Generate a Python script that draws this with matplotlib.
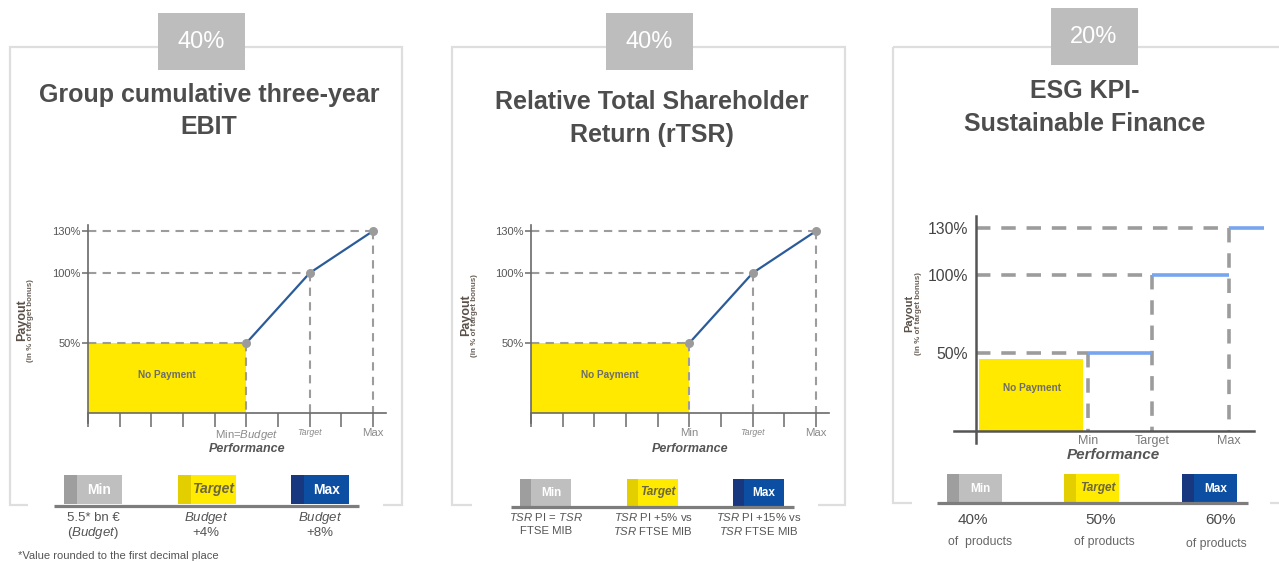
import matplotlib
matplotlib.use('Agg')
import matplotlib.pyplot as plt
from matplotlib.patches import Rectangle

plt.rcParams.update({
    'font.family': ['Liberation Sans', 'DejaVu Sans'],
    'mathtext.fontset': 'custom',
    'mathtext.rm': 'Liberation Sans',
    'mathtext.it': 'Liberation Sans:italic',
    'mathtext.bf': 'Liberation Sans:bold',
})

W, H = 1279, 562

# --- Data ---
weights = ['40%', '40%', '20%']
titles = ['Group cumulative three-year\nEBIT',
          'Relative Total Shareholder\nReturn (rTSR)',
          'ESG KPI-\nSustainable Finance']
levels = ['Min', 'Target', 'Max']
payout = [50, 100, 130]              # % of target bonus
perf_ebit = [5, 7, 9]                # position on performance scale (ticks 0..9)
perf_tsr = [5, 7, 9]
perf_esg = [3.5, 5.5, 7.9]
esg_end = 9.0
esg_no_pay = 46
ebit_ticks = ['Min=$\\mathit{Budget}$', 'Target', 'Max']
ebit_thr = [('5.5* bn €', '($\\mathit{Budget}$)'),
            ('$\\mathit{Budget}$', '+4%'),
            ('$\\mathit{Budget}$', '+8%')]
tsr_thr = [('$\\mathit{TSR}$ PI = $\\mathit{TSR}$', 'FTSE MIB'),
           ('$\\mathit{TSR}$ PI +5% vs', '$\\mathit{TSR}$ FTSE MIB'),
           ('$\\mathit{TSR}$ PI +15% vs', '$\\mathit{TSR}$ FTSE MIB')]
esg_thr = [('40%', 'of  products'), ('50%', 'of products'), ('60%', 'of products')]

YELLOW = '#ffe900'
DASH_C = '#9c9c9c'
TXT = '#555555'
block_cols = [('#9e9e9e', '#bfbfbf', 'white'),
              ('#e3cf00', '#ffea00', '#6b6640'),
              ('#17387f', '#0b4ea2', 'white')]

fig = plt.figure(figsize=(W / 100, H / 100), dpi=100)
bg = fig.add_axes([0, 0, 1, 1])
bg.set_xlim(0, W)
bg.set_ylim(H, 0)
bg.axis('off')


def chart_axes(box, x0px, xs, y0px, ys):
    l, r, t, b = box
    ax = fig.add_axes([l / W, 1 - b / H, (r - l) / W, (b - t) / H])
    ax.set_xlim((l - x0px) / xs, (r - x0px) / xs)
    ax.set_ylim((y0px - b) / ys, (y0px - t) / ys)
    ax.patch.set_visible(False)
    for s in ['top', 'right']:
        ax.spines[s].set_visible(False)
    ax.spines['left'].set_position(('data', 0))
    ax.spines['bottom'].set_position(('data', 0))
    return ax


# --- frames, weight boxes, titles ---
frame_l = [10, 452, 893]
frame_r = [402, 845, 1295]
frame_b = [505, 505, 503]
box_cx = [201, 649, 1094]
box_top = [13, 13, 8]
title_cx = [209, 652, 1085]
title_cy = [111, 118.5, 107.5]
for i in range(3):
    bg.add_patch(Rectangle((frame_l[i], 47), frame_r[i] - frame_l[i], frame_b[i] - 47,
                           fill=False, ec='#dedede', lw=1.6))
    bg.add_patch(Rectangle((box_cx[i] - 43.5, box_top[i]), 87, 57, fc='#bdbdbd', ec='none'))
    bg.text(box_cx[i], box_top[i] + 29, weights[i], color='white', fontsize=17,
            ha='center', va='center')
    bg.text(title_cx[i], title_cy[i], titles[i], color='#4d4d4d', fontsize=18,
            fontweight='bold', ha='center', va='center', linespacing=1.45)


def slope_chart(ax, perf, ticklabels):
    ax.add_patch(Rectangle((0, 0), perf[0], payout[0], fc=YELLOW, ec='none', zorder=1))
    for px, py in zip(perf, payout):
        ax.plot([0, px], [py, py], color=DASH_C, lw=1.5, ls=(0, (4, 3)), zorder=2)
        ax.plot([px, px], [py, 0], color=DASH_C, lw=1.5, ls=(0, (4, 3)), zorder=2)
    ax.plot(perf, payout, color='#2b5c99', lw=1.6, zorder=3)
    ax.scatter(perf, payout, s=30, color='#9b9b9b', zorder=4)
    ax.text(perf[0] / 2, payout[0] * 0.55, 'No Payment', fontsize=7.2, fontweight='bold',
            color='#6d6d6d', ha='center', va='center', zorder=5)
    for s in ['left', 'bottom']:
        ax.spines[s].set_color('#6a6a6a')
        ax.spines[s].set_linewidth(1.2)
    ax.spines['left'].set_bounds(-7, 134)
    ax.spines['bottom'].set_bounds(0, 9.4)
    ax.set_yticks(payout)
    ax.set_yticklabels([f'{p}%' for p in payout], fontsize=8, color='#555555')
    ax.tick_params(axis='y', direction='inout', length=9, width=1.1, color='#6a6a6a', pad=1)
    labels = [''] * 10
    for px, lab in zip(perf, ticklabels):
        labels[px] = lab
    ax.set_xticks(range(10))
    ax.set_xticklabels(labels, fontsize=8.2, color='#8a8a8a')
    ax.tick_params(axis='x', direction='out', length=10, width=1.1, color='#6a6a6a', pad=1)
    tl = ax.get_xticklabels()[perf[1]]
    tl.set_fontsize(6.3)
    tl.set_fontstyle('italic')


# --- chart 1: EBIT, chart 2: rTSR ---
ax1 = chart_axes((40, 400, 210, 470), 88, 31.67, 413, 1.4)
slope_chart(ax1, perf_ebit, ebit_ticks)
ax2 = chart_axes((483, 845, 210, 470), 531, 31.67, 413, 1.4)
slope_chart(ax2, perf_tsr, levels)

# --- chart 3: ESG steps ---
ax3 = chart_axes((935, 1279, 205, 470), 976, 32, 431, 1.56)
ax3.add_patch(Rectangle((0.1, 0), perf_esg[0] - 0.25, esg_no_pay, fc=YELLOW, ec='none', zorder=1))
for px, py in zip(perf_esg, payout):
    ax3.plot([0, px], [py, py], color=DASH_C, lw=2.6, ls=(0, (4, 3)), zorder=2)
    ax3.plot([px, px], [py, 0], color=DASH_C, lw=2.6, ls=(0, (4, 3)), zorder=2)
ax3.hlines(payout, perf_esg, perf_esg[1:] + [esg_end], color='#78a5f0', lw=2.6, zorder=3)
ax3.text(perf_esg[0] / 2, esg_no_pay * 0.6, 'No Payment', fontsize=7.3, fontweight='bold',
         color='#6d6d6d', ha='center', va='center', zorder=5)
for s in ['left', 'bottom']:
    ax3.spines[s].set_color('#555555')
    ax3.spines[s].set_linewidth(1.8)
ax3.spines['left'].set_bounds(-7.7, 138)
ax3.spines['bottom'].set_bounds(-0.7, 8.7)
ax3.set_yticks(payout)
ax3.set_yticklabels([f'{p}%' for p in payout], fontsize=11.3, color='#444444')
ax3.tick_params(axis='y', length=0, pad=6)
ax3.set_xticks(perf_esg)
ax3.set_xticklabels(levels, fontsize=9, color='#7a7a7a')
ax3.tick_params(axis='x', length=0, pad=3)

# axis titles
perf_cx = [247, 690, 1113]
perf_y = [449, 449, 455]
perf_fs = [9, 9, 11]
pay_x = [22, 466, 909]
pay_cy = [320, 315, 313]
pay_fs = [9, 9, 8]
for i in range(3):
    bg.text(perf_cx[i], perf_y[i], 'Performance', fontsize=perf_fs[i], fontweight='bold',
            fontstyle='italic', color='#555555', ha='center', va='center')
    bg.text(pay_x[i], pay_cy[i], 'Payout', rotation=90, fontsize=pay_fs[i], fontweight='bold',
            color='#5a5048', ha='center', va='center')
    bg.text(pay_x[i] + 9, pay_cy[i] + 1, '(in % of target bonus)', rotation=90, fontsize=5.8,
            fontweight='bold', color='#6a6058', ha='center', va='center')

# --- threshold legend ---
blk_l = [[64, 178, 291], [520, 627, 733], [947, 1064, 1182]]
blk_w = [58, 51, 55]
blk_t = [475, 479, 474]
blk_h = [29, 27, 29]
blk_s = [13, 11, 12]
blk_fs = [10, 8.5, 8.5]
base_x = [(54, 359), (511, 794), (937, 1248)]
base_y = [506, 507, 503]
cover_x = [(28, 383), (472, 818), (912, 1270)]
for i in range(3):
    bg.add_patch(Rectangle((cover_x[i][0], base_y[i] - 8), cover_x[i][1] - cover_x[i][0], 14,
                           fc='white', ec='none'))
    for j in range(3):
        dark, light, tc = block_cols[j]
        l = blk_l[i][j]
        bg.add_patch(Rectangle((l, blk_t[i]), blk_w[i], blk_h[i], fc=light, ec='none'))
        bg.add_patch(Rectangle((l, blk_t[i]), blk_s[i], blk_h[i], fc=dark, ec='none'))
        bg.text(l + blk_s[i] + (blk_w[i] - blk_s[i]) / 2, blk_t[i] + blk_h[i] / 2, levels[j],
                color=tc, fontsize=blk_fs[i], fontweight='bold',
                fontstyle='italic' if j == 1 else 'normal', ha='center', va='center')
    bg.plot(base_x[i], [base_y[i]] * 2, color='#7d7d7d', lw=2.3, solid_capstyle='butt')

ebit_cx = [93, 206, 320]
for cx, (a, b) in zip(ebit_cx, ebit_thr):
    bg.text(cx, 518, a, fontsize=9.5, color=TXT, ha='center', va='center')
    bg.text(cx, 533, b, fontsize=9.5, color=TXT, ha='center', va='center')
tsr_cx = [546, 653, 759]
for cx, (a, b) in zip(tsr_cx, tsr_thr):
    bg.text(cx, 517, a, fontsize=8.2, color=TXT, ha='center', va='center')
    bg.text(cx, 531, b, fontsize=8.2, color=TXT, ha='center', va='center')
esg_cx = [973, 1101, 1221]
esg_sx = [980, 1104, 1216]
esg_sy = [542, 542, 544]
for cx, sx, sy, (a, b) in zip(esg_cx, esg_sx, esg_sy, esg_thr):
    bg.text(cx, 520, a, fontsize=11, color='#4a4a4a', ha='center', va='center')
    bg.text(sx, sy, b, fontsize=8.8, color='#666666', ha='center', va='center')

bg.text(18, 556, '*Value rounded to the first decimal place', fontsize=8, color=TXT,
        ha='left', va='center')

fig.savefig('out.png', dpi=100)
